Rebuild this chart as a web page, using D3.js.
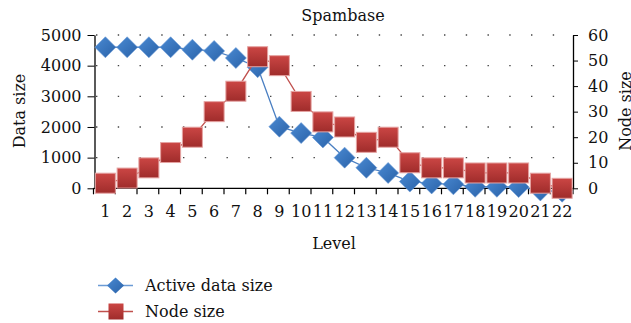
<!DOCTYPE html>
<html>
<head>
<meta charset="utf-8">
<script src="https://cdn.jsdelivr.net/npm/d3@7"></script>
<style>
  body { margin: 0; background: #fff; }
  text { font-family: "DejaVu Serif", serif; fill: #111; }
</style>
</head>
<body>
<svg id="mainFrame" width="631" height="323"></svg>
<script>
const svg = d3.select('#mainFrame');

// values
const levels = d3.range(1, 23).map(String);
const activeDataSize = [4600, 4600, 4600, 4600, 4520, 4480, 4250, 3950, 2010, 1800,
                        1660, 1000, 670, 500, 220, 160, 130, 50, 50, 40, -70, -110];
const nodeSize = [2, 4, 8, 14, 20, 30, 38, 51.5, 48, 34, 26, 24, 18, 20,
                  10, 8, 8, 6, 6, 6, 2, 0];
const leftTicks = [0, 1000, 2000, 3000, 4000, 5000];
const rightTicks = [0, 10, 20, 30, 40, 50, 60];

const plot = { left: 94.5, right: 573, top: 35, bottom: 188.3 };

const xScale = d3.scaleBand()
    .domain(levels)
    .range([plot.left, plot.right]);

const yLeft = d3.scaleLinear()
    .domain([0, 5000])
    .range([plot.bottom, plot.top]);

const yRight = d3.scaleLinear()
    .domain([0, 60])
    .range([plot.bottom, plot.top]);

const cx = d => xScale(d) + xScale.bandwidth() / 2;

// gradients for the markers
const defs = svg.append('defs');
const blueGrad = defs.append('linearGradient').attr('id', 'blueGrad')
    .attr('x1', '0').attr('y1', '0').attr('x2', '1').attr('y2', '1');
blueGrad.append('stop').attr('offset', '0%').attr('stop-color', '#4a8ad3');
blueGrad.append('stop').attr('offset', '100%').attr('stop-color', '#2a62a8');
const redGrad = defs.append('linearGradient').attr('id', 'redGrad')
    .attr('x1', '0').attr('y1', '0').attr('x2', '0').attr('y2', '1');
redGrad.append('stop').attr('offset', '0%').attr('stop-color', '#cb4644');
redGrad.append('stop').attr('offset', '100%').attr('stop-color', '#9f2c2b');

// dotted grid lines
svg.append('g').selectAll('line').data(leftTicks.filter(d => d > 0))
    .enter().append('line')
        .attr('x1', plot.left + 1.5)
        .attr('x2', plot.right)
        .attr('y1', d => yLeft(d))
        .attr('y2', d => yLeft(d))
        .attr('stroke', '#444')
        .attr('stroke-width', 1.3)
        .attr('stroke-dasharray', `1.4,${xScale.step() - 1.4}`);

// left axis
const leftAxis = d3.axisLeft(yLeft)
    .tickValues(leftTicks)
    .tickFormat(d3.format('d'))
    .tickSizeInner(7)
    .tickSizeOuter(0)
    .tickPadding(6);
const leftG = svg.append('g')
    .attr('transform', `translate(${plot.left},0)`)
    .call(leftAxis);

// right axis
const rightAxis = d3.axisRight(yRight)
    .tickValues(rightTicks)
    .tickFormat(d3.format('d'))
    .tickSizeInner(5)
    .tickSizeOuter(0)
    .tickPadding(10);
const rightG = svg.append('g')
    .attr('transform', `translate(${plot.right},0)`)
    .call(rightAxis);

// bottom axis: labels at band centres, ticks at band edges
const xAxis = d3.axisBottom(xScale)
    .tickSize(0)
    .tickPadding(17);
const xG = svg.append('g')
    .attr('transform', `translate(0,${plot.bottom})`)
    .call(xAxis);
xG.select('.domain').remove();
xG.append('line')
    .attr('x1', plot.left - 1).attr('x2', plot.right)
    .attr('stroke', '#000').attr('stroke-width', 1.3);
xG.selectAll('.edge').data(levels.concat(['end']))
    .enter().append('line')
        .attr('class', 'edge')
        .attr('x1', d => d === 'end' ? plot.right : xScale(d) - 1)
        .attr('x2', d => d === 'end' ? plot.right : xScale(d) - 1)
        .attr('y1', 0)
        .attr('y2', 6)
        .attr('stroke', '#000')
        .attr('stroke-width', 1.2);

[leftG, rightG, xG].forEach(g => {
    g.selectAll('text')
        .attr('font-family', '"DejaVu Serif", serif')
        .attr('font-size', 16)
        .attr('fill', '#111');
    g.selectAll('line').attr('stroke', '#000');
    g.select('.domain').attr('stroke', '#000').attr('stroke-width', 1.3);
});

// active data size series
const blueLine = d3.line()
    .x((d, i) => cx(levels[i]))
    .y(d => yLeft(d));
svg.append('path')
    .datum(activeDataSize)
    .attr('d', blueLine)
    .attr('fill', 'none')
    .attr('stroke', '#4a7fc2')
    .attr('stroke-width', 1.3);

const diamond = 'M0,-10.5L10.5,0L0,10.5L-10.5,0Z';
svg.append('g').selectAll('path').data(activeDataSize)
    .enter().append('path')
        .attr('d', diamond)
        .attr('transform', (d, i) => `translate(${cx(levels[i])},${yLeft(d)})`)
        .attr('fill', 'url(#blueGrad)')
        .attr('stroke', '#6c9ad6')
        .attr('stroke-width', 0.6);

// node size series
const redLine = d3.line()
    .x((d, i) => cx(levels[i]))
    .y(d => yRight(d));
svg.append('path')
    .datum(nodeSize)
    .attr('d', redLine)
    .attr('fill', 'none')
    .attr('stroke', '#c0504d')
    .attr('stroke-width', 1.3);

svg.append('g').selectAll('rect').data(nodeSize)
    .enter().append('rect')
        .attr('x', (d, i) => cx(levels[i]) - 10)
        .attr('y', d => yRight(d) - 10)
        .attr('width', 20)
        .attr('height', 20)
        .attr('fill', 'url(#redGrad)')
        .attr('stroke', '#e5a3a2')
        .attr('stroke-width', 1);

// titles
svg.append('text')
    .attr('x', 343).attr('y', 21)
    .attr('text-anchor', 'middle')
    .attr('font-size', 16)
    .text('Spambase');

svg.append('text')
    .attr('x', 334).attr('y', 249)
    .attr('text-anchor', 'middle')
    .attr('font-size', 16)
    .text('Level');

svg.append('text')
    .attr('transform', 'translate(25,111) rotate(-90)')
    .attr('text-anchor', 'middle')
    .attr('font-size', 16)
    .text('Data size');

svg.append('text')
    .attr('transform', 'translate(631,111) rotate(-90)')
    .attr('text-anchor', 'middle')
    .attr('font-size', 16)
    .text('Node size');

// legend
const legend = svg.append('g');
legend.append('line')
    .attr('x1', 98).attr('x2', 133).attr('y1', 285.5).attr('y2', 285.5)
    .attr('stroke', '#6b9bd5').attr('stroke-width', 1.5);
legend.append('path')
    .attr('d', 'M0,-8L8.5,0L0,8L-8.5,0Z')
    .attr('transform', 'translate(115.5,285.5)')
    .attr('fill', 'url(#blueGrad)');
legend.append('text')
    .attr('x', 145).attr('y', 291)
    .attr('font-size', 16)
    .text('Active data size');

legend.append('line')
    .attr('x1', 98).attr('x2', 133).attr('y1', 311.5).attr('y2', 311.5)
    .attr('stroke', '#c0504d').attr('stroke-width', 1.5);
legend.append('rect')
    .attr('x', 108.5).attr('y', 303.5).attr('width', 15).attr('height', 16)
    .attr('fill', 'url(#redGrad)');
legend.append('text')
    .attr('x', 145).attr('y', 317)
    .attr('font-size', 16)
    .text('Node size');
</script>
</body>
</html>
